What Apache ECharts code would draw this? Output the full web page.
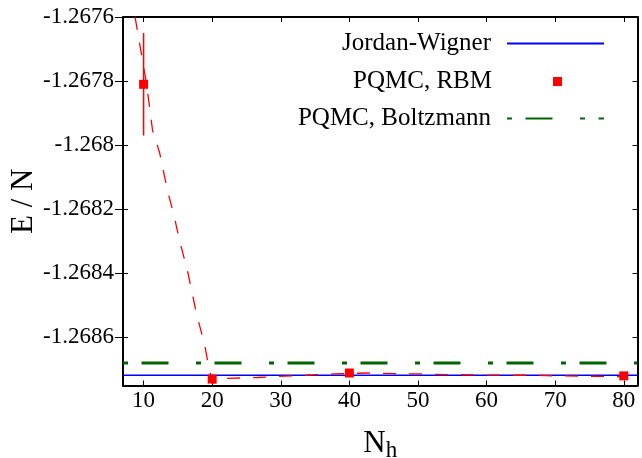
<!DOCTYPE html>
<html>
<head>
<meta charset="utf-8">
<script src="https://cdn.jsdelivr.net/npm/echarts@6/dist/echarts.min.js"></script>
<style>
html,body{margin:0;padding:0;background:#fff;}
#chart{width:642px;height:458px;}
</style>
</head>
<body>
<div id="chart"></div>
<script>
// ---- data ----
const xRange = [7, 82];
const yRange = [-1.26875, -1.2676];
const xTicks = [10, 20, 30, 40, 50, 60, 70, 80];
const yTicks = [-1.2686, -1.2684, -1.2682, -1.268, -1.2678, -1.2676];

const seriesNames = ['Jordan-Wigner', 'PQMC, RBM', 'PQMC, Boltzmann'];

const jordanWignerE = -1.268718;
const boltzmannE = -1.26868;

const rbmN = [10, 20, 40, 80];
const rbmE = [-1.26781, -1.26873, -1.268711, -1.26872];
const rbmErr = [0.00016, 0.000004, 0.000004, 0.000004];

// dashed fit curve
const fitN = [8.76, 10.44, 11.31, 12.33, 13.49, 14.51, 15.24, 16.40, 17.71, 18.87, 19.61, 20.1, 20.6, 21.79, 26.59, 30.52, 34.6, 38.53, 42.6, 46.5, 50.5, 54.25, 58.5, 62.3, 66.2, 70.3, 74.5, 78.3, 80];
const fitE = [-1.2676, -1.26781, -1.267954, -1.268023, -1.268142, -1.268226, -1.268298, -1.268392, -1.268526, -1.26862, -1.268704, -1.268742, -1.268742, -1.268728, -1.268725, -1.268721, -1.268717, -1.268713, -1.268711, -1.268713, -1.268714, -1.268716, -1.268717, -1.268718, -1.268718, -1.26872, -1.268721, -1.268722, -1.268722];

// ---- chart ----
const FONT = '"Liberation Serif", "Times New Roman", serif';
const chart = echarts.init(document.getElementById('chart'), null, {renderer: 'canvas'});

const zip = (a, b) => a.map((v, i) => [v, b[i]]);
const yFmt = v => Number(v).toFixed(4).replace(/0+$/, '');

const frameLine = {show: true, onZero: false, lineStyle: {color: '#000', width: 2}};

const lineLegend = (name, top) => ({
  data: [name], right: 37, top: top, orient: 'vertical', align: 'right',
  padding: 0, itemWidth: 97, itemHeight: 2, selectedMode: false,
  itemStyle: {opacity: 0},
  textStyle: {color: '#000', fontFamily: FONT, fontSize: 25, padding: [0, 11, 0, 0]}
});

const option = {
  animation: false,
  backgroundColor: '#fff',
  grid: {left: 123, right: 4.5, top: 17, bottom: 72.5, containLabel: false, outerBoundsMode: 'none'},
  xAxis: [
    {
      type: 'value', position: 'bottom', min: xRange[0], max: xRange[1],
      axisLine: frameLine,
      axisTick: {show: true, inside: true, length: 5, customValues: xTicks, lineStyle: {color: '#000', width: 1}},
      axisLabel: {show: true, customValues: xTicks, margin: 4, color: '#000', fontFamily: FONT, fontSize: 23},
      splitLine: {show: false},
      name: '{n|N}{h|h}', nameLocation: 'middle', nameGap: 39, nameMoveOverlap: false,
      nameTextStyle: {
        color: '#000', fontFamily: FONT, fontSize: 31,
        rich: {
          n: {fontFamily: FONT, fontSize: 31, color: '#000'},
          h: {fontFamily: FONT, fontSize: 23, color: '#000', padding: [15, 0, 0, 0]}
        }
      }
    },
    {
      type: 'value', position: 'top', min: xRange[0], max: xRange[1],
      axisLine: frameLine,
      axisTick: {show: true, inside: true, length: 5, customValues: xTicks, lineStyle: {color: '#000', width: 1}},
      axisLabel: {show: false},
      splitLine: {show: false}
    }
  ],
  yAxis: [
    {
      type: 'value', position: 'left', min: yRange[0], max: yRange[1],
      axisLine: frameLine,
      axisTick: {show: true, inside: true, length: 5, customValues: yTicks, lineStyle: {color: '#000', width: 1}},
      axisLabel: {show: true, customValues: yTicks, formatter: yFmt, margin: 9, color: '#000', fontFamily: FONT, fontSize: 23},
      splitLine: {show: false},
      name: 'E / N', nameLocation: 'middle', nameGap: 84, nameRotate: 90, nameMoveOverlap: false,
      nameTextStyle: {color: '#000', fontFamily: FONT, fontSize: 31}
    },
    {
      type: 'value', position: 'left', min: yRange[0], max: yRange[1],
      axisLine: {show: false},
      axisTick: {show: true, inside: false, length: 8, customValues: yTicks, lineStyle: {color: '#000', width: 1}},
      axisLabel: {show: false},
      splitLine: {show: false}
    },
    {
      type: 'value', position: 'right', min: yRange[0], max: yRange[1],
      axisLine: frameLine,
      axisTick: {show: true, inside: true, length: 5, customValues: yTicks, lineStyle: {color: '#000', width: 1}},
      axisLabel: {show: false},
      splitLine: {show: false}
    }
  ],
  legend: [
    lineLegend(seriesNames[0], 31),
    {
      data: [seriesNames[1]], right: 80, top: 69, orient: 'vertical', align: 'right',
      padding: 0, itemWidth: 9, itemHeight: 9, icon: 'rect', selectedMode: false,
      textStyle: {color: '#000', fontFamily: FONT, fontSize: 25, padding: [0, 56, 0, 0]}
    },
    lineLegend(seriesNames[2], 106)
  ],
  series: [
    {
      name: seriesNames[0], type: 'line', symbol: 'none', z: 2,
      data: [[xRange[0], jordanWignerE], [xRange[1], jordanWignerE]],
      lineStyle: {color: '#0000ff', width: 1.5}, itemStyle: {color: '#0000ff'}
    },
    {
      name: 'fit', type: 'line', symbol: 'none', z: 3, smooth: false,
      data: zip(fitN, fitE),
      lineStyle: {color: '#ff0000', width: 1.3, type: [13, 13]}, itemStyle: {color: '#ff0000'}
    },
    {
      name: 'rbmErr', type: 'custom', z: 4,
      data: rbmN.map((n, i) => [n, rbmE[i] - rbmErr[i], rbmE[i] + rbmErr[i]]),
      renderItem: function (params, api) {
        const p1 = api.coord([api.value(0), api.value(1)]);
        const p2 = api.coord([api.value(0), api.value(2)]);
        return {type: 'line', shape: {x1: p1[0], y1: p1[1], x2: p2[0], y2: p2[1]},
          style: {stroke: '#ff0000', lineWidth: 1.5}};
      }
    },
    {
      name: seriesNames[1], type: 'scatter', symbol: 'rect', symbolSize: 9, z: 5,
      data: zip(rbmN, rbmE), itemStyle: {color: '#ff0000', opacity: 1}
    },
    {
      name: seriesNames[2], type: 'line', symbol: 'none', z: 2,
      data: [[xRange[0], boltzmannE], [xRange[1], boltzmannE]],
      lineStyle: {color: '#006400', width: 3, type: [5, 13.5, 27, 27.5]}, itemStyle: {color: '#006400'}
    }
  ]
};
chart.setOption(option);
</script>
</body>
</html>
